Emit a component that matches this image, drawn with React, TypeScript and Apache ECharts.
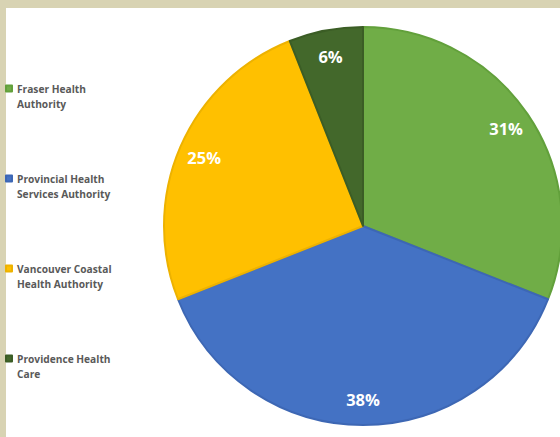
import React, { useEffect, useRef } from "react";
import * as echarts from "echarts";

const categories = [
  "Fraser Health Authority",
  "Provincial Health Services Authority",
  "Vancouver Coastal Health Authority",
  "Providence Health Care",
];
const legendLabels = [
  "Fraser Health\nAuthority",
  "Provincial Health\nServices Authority",
  "Vancouver Coastal\nHealth Authority",
  "Providence Health\nCare",
];
const values = [31, 38, 25, 6];
const colors = ["#70AD47", "#4472C4", "#FFC000", "#43682B"];
const borderColors = ["#62A03B", "#3D67B4", "#EDB200", "#3B5D25"];

export default function App() {
  const ref = useRef<HTMLDivElement>(null);
  useEffect(() => {
    if (!ref.current) return;
    const chart = echarts.init(ref.current, undefined, { renderer: "svg" });
    const data = categories.map((name, i) => ({
      name,
      value: values[i],
      itemStyle: { color: colors[i], borderColor: borderColors[i], borderWidth: 2 },
    }));
    chart.setOption({
      animation: false,
      legend: {
        orient: "vertical",
        left: 5,
        top: 66,
        height: 380,
        padding: 0,
        itemWidth: 6,
        itemHeight: 6,
        itemGap: 45,
        icon: "rect",
        data: categories,
        formatter: (name: string) => "\n" + legendLabels[categories.indexOf(name)],
        textStyle: {
          fontFamily: "Open Sans",
          fontWeight: "bold",
          fontSize: 10.2,
          color: "#595959",
          lineHeight: 15,
        },
      },
      series: [
        {
          type: "pie",
          center: [363, 226],
          radius: [0, 199],
          startAngle: 90,
          clockwise: true,
          silent: true,
          label: { show: false },
          labelLine: { show: false },
          data,
        },
        {
          type: "pie",
          center: [363, 226],
          radius: [144, 196],
          startAngle: 90,
          clockwise: true,
          silent: true,
          legendHoverLink: false,
          itemStyle: { color: "transparent", borderWidth: 0 },
          label: {
            show: true,
            position: "inside",
            formatter: "{c}%",
            color: "#ffffff",
            fontFamily: "Open Sans",
            fontWeight: "bold",
            fontSize: 16.5,
          },
          labelLine: { show: false },
          data: categories.map((name, i) => ({
            name,
            value: values[i],
            itemStyle: { color: "transparent", borderWidth: 0 },
          })),
        },
      ],
    });
    return () => chart.dispose();
  }, []);
  return (
    <div
      style={{
        position: "fixed",
        left: 0,
        top: 0,
        width: 560,
        height: 437,
        background: "#D8D3B3",
        overflow: "hidden",
      }}
    >
      <div
        style={{
          position: "absolute",
          left: 6,
          top: 8,
          width: 554,
          height: 429,
          background: "#ffffff",
        }}
      />
      <div ref={ref} style={{ position: "absolute", left: 0, top: 0, width: 560, height: 437 }} />
    </div>
  );
}
